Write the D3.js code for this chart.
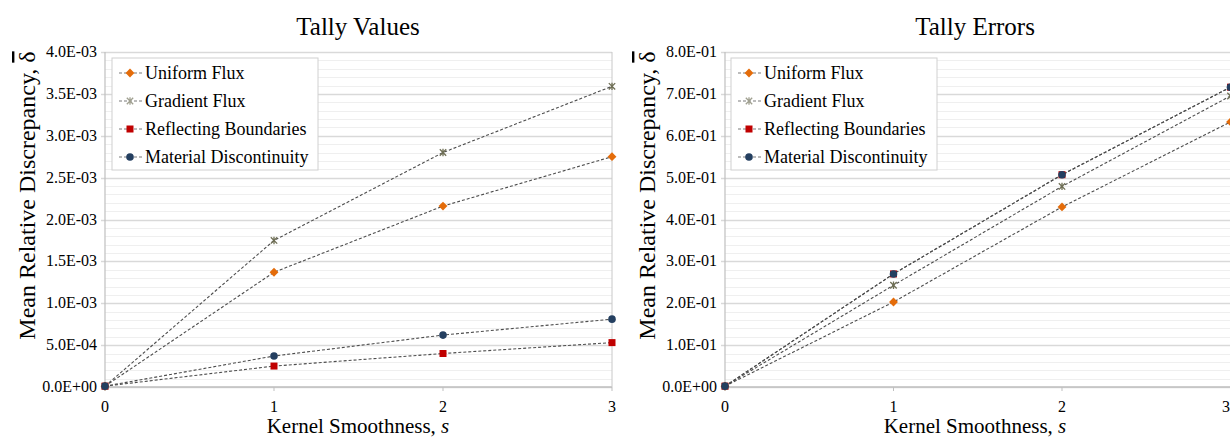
<!DOCTYPE html>
<html>
<head>
<meta charset="utf-8">
<script src="https://cdn.jsdelivr.net/npm/d3@7"></script>
<style>
  body { margin: 0; background: #fff; }
  text { font-family: "Liberation Serif", "DejaVu Serif", serif; fill: #000; }
</style>
</head>
<body>
<div id="chart"></div>
<script>
const width = 1230;
const height = 440;

const smoothness = [0, 1, 2, 3];
const seriesNames = ["Uniform Flux", "Gradient Flux", "Reflecting Boundaries", "Material Discontinuity"];

// Tally Values
const valUniform = [0.00001, 0.00137, 0.00216, 0.00275];
const valGradient = [0.00001, 0.00175, 0.00280, 0.00359];
const valReflecting = [0.00001, 0.00025, 0.00040, 0.00053];
const valMaterial = [0.00001, 0.00037, 0.00062, 0.00081];
const valTicks = [0, 0.0005, 0.001, 0.0015, 0.002, 0.0025, 0.003, 0.0035, 0.004];

// Tally Errors
const errUniform = [0.002, 0.203, 0.430, 0.633];
const errGradient = [0.002, 0.243, 0.479, 0.695];
const errReflecting = [0.002, 0.270, 0.507, 0.716];
const errMaterial = [0.002, 0.270, 0.507, 0.716];
const errTicks = [0, 0.1, 0.2, 0.3, 0.4, 0.5, 0.6, 0.7, 0.8];

const styles = {
    "Uniform Flux": { color: "#e46c0a", shape: "diamond" },
    "Gradient Flux": { color: "#6f6f55", shape: "star" },
    "Reflecting Boundaries": { color: "#c00000", shape: "square" },
    "Material Discontinuity": { color: "#243f60", shape: "circle" }
};

const svg = d3.select("#chart")
    .append("svg")
    .attr("width", width)
    .attr("height", height);

function sci(d) {
    if (d === 0) return "0.0E+00";
    const [m, e] = d.toExponential(1).split("e");
    const n = +e;
    return m + "E" + (n < 0 ? "-" : "+") + String(Math.abs(n)).padStart(2, "0");
}

function drawMarker(g, shape, color, x, y) {
    if (shape === "diamond") {
        g.append("path")
            .attr("d", d3.symbol(d3.symbolDiamond2, 50)())
            .attr("transform", `translate(${x},${y})`)
            .attr("fill", color);
    } else if (shape === "square") {
        g.append("rect")
            .attr("x", x - 3.5).attr("y", y - 3.5)
            .attr("width", 7).attr("height", 7)
            .attr("fill", color);
    } else if (shape === "circle") {
        g.append("circle")
            .attr("cx", x).attr("cy", y).attr("r", 3.8)
            .attr("fill", color);
    } else {
        const s = 3.2;
        g.append("path")
            .attr("d", `M${x - s},${y - s}L${x + s},${y + s}M${x - s},${y + s}L${x + s},${y - s}M${x},${y - s - 0.5}L${x},${y + s + 0.5}`)
            .attr("stroke", color)
            .attr("stroke-width", 1.3)
            .attr("fill", "none");
    }
}

function drawPanel(opts) {
    const { x0, x1, title, titleX, ticks, minorStep, series, legendX, clipW } = opts;
    const y0 = 387, y1 = 52;

    const x = d3.scaleLinear().domain([0, 3]).range([x0, x1]);
    const y = d3.scaleLinear().domain([0, ticks[ticks.length - 1]]).range([y0, y1]);

    const g = svg.append("g");

    const clipId = "clip" + Math.round(x0);
    svg.append("clipPath").attr("id", clipId)
        .append("rect").attr("x", x0 - 10).attr("y", 0).attr("width", clipW).attr("height", height);

    // minor gridlines
    const top = ticks[ticks.length - 1];
    const minor = d3.range(0, top + minorStep / 2, minorStep);
    g.selectAll(".minor")
        .data(minor)
        .enter()
        .append("line")
        .attr("x1", x0).attr("x2", x1)
        .attr("y1", d => Math.round(y(d)) + 0.5)
        .attr("y2", d => Math.round(y(d)) + 0.5)
        .attr("stroke", "#efefef")
        .attr("stroke-width", 1);

    // major gridlines
    g.selectAll(".major")
        .data(ticks)
        .enter()
        .append("line")
        .attr("x1", x0 - 4).attr("x2", x1)
        .attr("y1", d => Math.round(y(d)) + 0.5)
        .attr("y2", d => Math.round(y(d)) + 0.5)
        .attr("stroke", "#d9d9d9")
        .attr("stroke-width", 1.5);

    // axes lines
    g.append("line")
        .attr("x1", x0).attr("x2", x0)
        .attr("y1", y1).attr("y2", y0 + 4)
        .attr("stroke", "#bfbfbf").attr("stroke-width", 1.2);
    g.append("line")
        .attr("x1", x0).attr("x2", x1)
        .attr("y1", y0).attr("y2", y0)
        .attr("stroke", "#bfbfbf").attr("stroke-width", 1.5);
    g.append("line")
        .attr("x1", x1).attr("x2", x1)
        .attr("y1", y1).attr("y2", y0)
        .attr("stroke", "#c8c8c8").attr("stroke-width", 1);

    g.selectAll(".xtick")
        .data(smoothness)
        .enter()
        .append("line")
        .attr("x1", d => x(d)).attr("x2", d => x(d))
        .attr("y1", y0).attr("y2", y0 + 4)
        .attr("stroke", "#bfbfbf");

    // tick labels
    g.selectAll(".ylab")
        .data(ticks)
        .enter()
        .append("text")
        .attr("x", x0 - 8)
        .attr("y", d => y(d) + 5)
        .attr("text-anchor", "end")
        .style("font-size", "16px")
        .text(sci);

    g.selectAll(".xlab")
        .data(smoothness)
        .enter()
        .append("text")
        .attr("x", d => Math.min(x(d), 1226))
        .attr("y", 412)
        .attr("text-anchor", "middle")
        .style("font-size", "16px")
        .text(d => d);

    // titles
    g.append("text")
        .attr("x", titleX).attr("y", 35)
        .attr("text-anchor", "middle")
        .style("font-size", "25px")
        .text(title);

    const xt = g.append("text")
        .attr("x", titleX).attr("y", 433)
        .attr("text-anchor", "middle")
        .style("font-size", "21px");
    xt.append("tspan").text("Kernel Smoothness, ");
    xt.append("tspan").style("font-style", "italic").text("s");

    const yt = g.append("text")
        .attr("transform", `translate(${x0 - 70},${(y0 + y1) / 2 - 24}) rotate(-90)`)
        .attr("text-anchor", "middle")
        .style("font-size", "24px");
    yt.append("tspan").text("Mean Relative Discrepancy, ");
    yt.append("tspan").style("text-decoration", "overline").text("\u03B4");

    // series
    const line = d3.line()
        .x((d, i) => x(smoothness[i]))
        .y(d => y(d));

    const plot = g.append("g").attr("clip-path", `url(#${clipId})`);
    series.forEach(s => {
        plot.append("path")
            .datum(s.values)
            .attr("d", line)
            .attr("fill", "none")
            .attr("stroke", "#4d4d4d")
            .attr("stroke-width", 1.1)
            .attr("stroke-dasharray", "3,2");
    });
    series.forEach(s => {
        const st = styles[s.name];
        s.values.forEach((v, i) => drawMarker(plot, st.shape, st.color, x(smoothness[i]), y(v)));
    });

    // legend
    const lg = g.append("g");
    lg.append("rect")
        .attr("x", legendX).attr("y", 58)
        .attr("width", 206).attr("height", 112)
        .attr("fill", "#fff")
        .attr("stroke", "#d0d0d0");
    seriesNames.forEach((name, i) => {
        const ly = 73 + i * 28;
        const st = styles[name];
        lg.append("line")
            .attr("x1", legendX + 7).attr("x2", legendX + 30)
            .attr("y1", ly).attr("y2", ly)
            .attr("stroke", "#7a7a7a")
            .attr("stroke-width", 1.1)
            .attr("stroke-dasharray", "3,2");
        drawMarker(lg, st.shape, name === "Gradient Flux" ? "#a0a090" : st.color, legendX + 18, ly);
        lg.append("text")
            .attr("x", legendX + 33).attr("y", ly + 6)
            .style("font-size", "18px")
            .text(name);
    });
}

drawPanel({
    x0: 105, x1: 612, title: "Tally Values", titleX: 358,
    ticks: valTicks, minorStep: 0.0001, legendX: 112, clipW: 530,
    series: [
        { name: "Gradient Flux", values: valGradient },
        { name: "Uniform Flux", values: valUniform },
        { name: "Reflecting Boundaries", values: valReflecting },
        { name: "Material Discontinuity", values: valMaterial }
    ]
});

drawPanel({
    x0: 725, x1: 1230.5, title: "Tally Errors", titleX: 975,
    ticks: errTicks, minorStep: 0.02, legendX: 731, clipW: 520,
    series: [
        { name: "Uniform Flux", values: errUniform },
        { name: "Gradient Flux", values: errGradient },
        { name: "Reflecting Boundaries", values: errReflecting },
        { name: "Material Discontinuity", values: errMaterial }
    ]
});
</script>
</body>
</html>
